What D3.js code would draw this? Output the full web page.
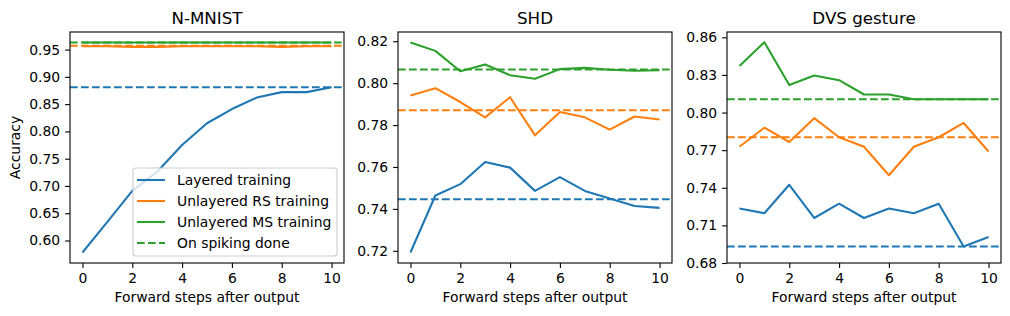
<!DOCTYPE html>
<html>
<head>
<meta charset="utf-8">
<script src="https://d3js.org/d3.v7.min.js"></script>
<style>
  body { margin: 0; background: #fff; }
  svg { font-family: "DejaVu Sans", sans-serif; }
</style>
</head>
<body>
<div class="chart"></div>
<script>
// Accuracy vs forward steps, three datasets

var steps = [0, 1, 2, 3, 4, 5, 6, 7, 8, 9, 10];
var xTicks = [0, 2, 4, 6, 8, 10];
var seriesNames = ["Layered training", "Unlayered RS training", "Unlayered MS training"];
var colors = ["#1f77b4", "#ff7f0e", "#2ca02c"];

// N-MNIST
var mnistLayered = [0.578, 0.634, 0.691, 0.726, 0.775, 0.815, 0.841, 0.862, 0.872, 0.872, 0.881];
var mnistRS = [0.956, 0.956, 0.955, 0.955, 0.956, 0.956, 0.956, 0.956, 0.955, 0.956, 0.956];
var mnistMS = [0.963, 0.963, 0.963, 0.963, 0.963, 0.963, 0.963, 0.963, 0.963, 0.963, 0.963];
var mnistDone = [0.881, 0.957, 0.963];
var mnistTicks = [0.60, 0.65, 0.70, 0.75, 0.80, 0.85, 0.90, 0.95];

// SHD
var shdLayered = [0.7192, 0.7464, 0.7518, 0.7624, 0.7597, 0.7486, 0.7552, 0.7486, 0.7450, 0.7414, 0.7405];
var shdRS = [0.7941, 0.7976, 0.7910, 0.7837, 0.7933, 0.7751, 0.7862, 0.7837, 0.7778, 0.7841, 0.7827];
var shdMS = [0.8194, 0.8154, 0.8057, 0.8089, 0.8038, 0.8021, 0.8067, 0.8073, 0.8064, 0.8059, 0.8062];
var shdDone = [0.7446, 0.7871, 0.8065];
var shdTicks = [0.72, 0.74, 0.76, 0.78, 0.80, 0.82];

// DVS gesture
var dvsLayered = [0.7235, 0.7197, 0.7424, 0.7159, 0.7273, 0.7159, 0.7235, 0.7197, 0.7273, 0.6932, 0.7008];
var dvsRS = [0.7727, 0.7879, 0.7765, 0.7955, 0.7803, 0.7727, 0.7500, 0.7727, 0.7803, 0.7917, 0.7689];
var dvsMS = [0.8371, 0.8561, 0.8220, 0.8295, 0.8258, 0.8144, 0.8144, 0.8106, 0.8106, 0.8106, 0.8106];
var dvsDone = [0.6932, 0.7803, 0.8106];
var dvsTicks = [0.68, 0.71, 0.74, 0.77, 0.80, 0.83, 0.86];

var svgWidth = 1010;
var svgHeight = 316;
var plotTop = 32;
var plotHeight = 231;
var plotWidth = 274;
var fontSize = 13.9;
var tickLen = 4.9;
var dash = "7.7,3.3";

var svg = d3.select(".chart")
    .append("svg")
    .attr("width", svgWidth)
    .attr("height", svgHeight);

function drawPanel(left, title, series, done, yTicks, idx) {
    var g = svg.append("g")
        .attr("transform", `translate(${left}, ${plotTop})`);

    var all = series.flat().concat(done);
    var lo = d3.min(all), hi = d3.max(all);
    var pad = (hi - lo) * 0.05;
    var yMin = Math.min(lo - pad, d3.min(yTicks));
    var yMax = Math.max(hi + pad, d3.max(yTicks));

    var xScale = d3.scaleLinear().domain([-0.5, 10.5]).range([0, plotWidth]);
    var yScale = d3.scaleLinear().domain([yMin, yMax]).range([plotHeight, 0]);

    g.append("clipPath").attr("id", "clip" + idx)
        .append("rect").attr("width", plotWidth).attr("height", plotHeight);

    var plot = g.append("g").attr("clip-path", `url(#clip${idx})`);
    var line = d3.line().x((d, i) => xScale(steps[i])).y(d => yScale(d));

    series.forEach(function(vals, k) {
        plot.append("path")
            .datum(vals)
            .attr("d", line)
            .attr("fill", "none")
            .attr("stroke", colors[k])
            .attr("stroke-width", 2.08)
            .attr("stroke-linejoin", "round");
    });

    done.forEach(function(v, k) {
        plot.append("line")
            .attr("x1", xScale(-0.5)).attr("x2", xScale(10.5))
            .attr("y1", yScale(v)).attr("y2", yScale(v))
            .attr("stroke", colors[k])
            .attr("stroke-width", 2.08)
            .attr("stroke-dasharray", dash);
    });

    var xAxis = d3.axisBottom(xScale).tickValues(xTicks).tickSize(tickLen).tickPadding(4.9);
    var yAxis = d3.axisLeft(yScale).tickValues(yTicks).tickSize(tickLen).tickPadding(4.9)
        .tickFormat(d3.format(".2f"));

    var gx = g.append("g").attr("transform", `translate(0, ${plotHeight})`).call(xAxis);
    var gy = g.append("g").call(yAxis);
    [gx, gy].forEach(function(a) {
        a.select(".domain").remove();
        a.selectAll("line").attr("stroke", "#000").attr("stroke-width", 1.1);
        a.selectAll("text").attr("font-size", fontSize).attr("fill", "#000")
            .attr("font-family", "DejaVu Sans");
    });

    g.append("rect")
        .attr("width", plotWidth).attr("height", plotHeight)
        .attr("fill", "none").attr("stroke", "#000").attr("stroke-width", 1.1);

    g.append("text")
        .attr("x", plotWidth / 2).attr("y", -8)
        .attr("text-anchor", "middle")
        .attr("font-size", 16.7)
        .text(title);

    g.append("text")
        .attr("x", plotWidth / 2).attr("y", plotHeight + 39)
        .attr("text-anchor", "middle")
        .attr("font-size", fontSize)
        .text("Forward steps after output");

    return g;
}

var g1 = drawPanel(70, "N-MNIST", [mnistLayered, mnistRS, mnistMS], mnistDone, mnistTicks, 1);
drawPanel(398, "SHD", [shdLayered, shdRS, shdMS], shdDone, shdTicks, 2);
drawPanel(727, "DVS gesture", [dvsLayered, dvsRS, dvsMS], dvsDone, dvsTicks, 3);

// y label on first panel
svg.append("text")
    .attr("transform", `translate(20, ${plotTop + plotHeight / 2}) rotate(-90)`)
    .attr("text-anchor", "middle")
    .attr("font-size", fontSize)
    .text("Accuracy");

// Legend (lower right of first panel)
var legendItems = seriesNames.map((n, i) => ({ label: n, color: colors[i], dashed: false }))
    .concat([{ label: "On spiking done", color: colors[2], dashed: true }]);

var legend = g1.append("g").attr("transform", "translate(63, 136)");
legend.append("rect")
    .attr("width", 204).attr("height", 88)
    .attr("rx", 3).attr("ry", 3)
    .attr("fill", "#fff").attr("fill-opacity", 0.8)
    .attr("stroke", "#cccccc").attr("stroke-width", 1.1);

var rows = legend.selectAll(".row")
    .data(legendItems)
    .enter()
    .append("g")
    .attr("transform", (d, i) => `translate(0, ${12 + i * 21})`);

rows.append("line")
    .attr("x1", 4).attr("x2", 32)
    .attr("stroke", d => d.color)
    .attr("stroke-width", 2.08)
    .attr("stroke-dasharray", d => d.dashed ? dash : null);

rows.append("text")
    .attr("x", 44).attr("dy", "0.35em")
    .attr("font-size", fontSize)
    .text(d => d.label);
</script>
</body>
</html>
